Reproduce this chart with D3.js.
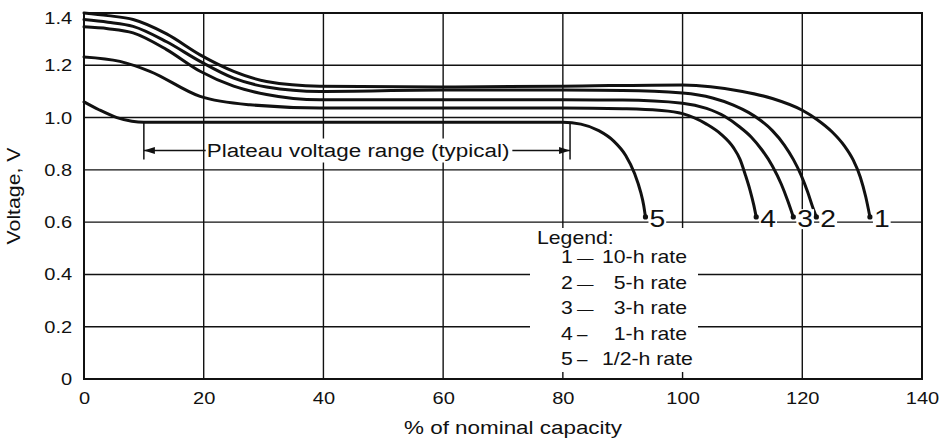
<!DOCTYPE html>
<html>
<head>
<meta charset="utf-8">
<script src="https://cdn.jsdelivr.net/npm/d3@7"></script>
<style>
  body { margin: 0; background: #fff; }
  svg { display: block; }
  text { font-family: "Liberation Sans", Arial, Helvetica, sans-serif; fill: #111; }
</style>
</head>
<body>
<svg id="chart" width="943" height="439"></svg>
<script>
// Axis ticks
const xTicks = [0, 20, 40, 60, 80, 100, 120, 140];
const yTicks = [0, 0.2, 0.4, 0.6, 0.8, 1.0, 1.2, 1.4];

// Discharge curves: [% of nominal capacity, volts]
const rate10h = [[0,1.40],[4,1.39],[8.2,1.375],[13.8,1.32],[19.4,1.24],[25,1.177],[30.5,1.138],[39.4,1.12],[60,1.117],[80,1.12],[100,1.125],[110,1.10],[115,1.073],[120,1.028],[122.5,0.992],[125,0.945],[127,0.893],[128.5,0.838],[129.7,0.772],[130.6,0.697],[131.3,0.62]];
const rate5h  = [[0,1.375],[4,1.365],[8.2,1.349],[13.8,1.29],[19.4,1.215],[25,1.151],[30.5,1.117],[39.4,1.10],[60,1.105],[80,1.105],[90,1.104],[100,1.094],[105,1.075],[108.5,1.048],[111,1.02],[113,0.99],[115,0.95],[117,0.895],[118.5,0.84],[119.8,0.78],[120.9,0.715],[121.7,0.66],[122.35,0.62]];
const rate3h  = [[0,1.347],[4,1.34],[8.2,1.324],[13.8,1.26],[19.4,1.177],[25,1.12],[30.5,1.088],[39.4,1.068],[60,1.068],[80,1.068],[90,1.067],[100,1.055],[104,1.035],[107,1.005],[109.5,0.965],[111.5,0.925],[113.3,0.875],[115,0.815],[116.5,0.745],[117.6,0.68],[118.5,0.62]];
const rate1h  = [[0,1.232],[6,1.215],[11,1.177],[19.4,1.081],[27.7,1.049],[39.4,1.037],[60,1.037],[80,1.037],[90,1.034],[96,1.028],[100,1.015],[104,0.975],[106.5,0.935],[108.5,0.885],[109.6,0.84],[110.5,0.78],[111.3,0.72],[111.9,0.665],[112.3,0.62]];
const rateHalfH = [[0,1.06],[2.5,1.03],[5.5,1.0],[8,0.986],[10,0.982],[40,0.982],[60,0.982],[80,0.982],[83,0.975],[86,0.95],[88.5,0.91],[90.5,0.855],[92,0.785],[93,0.715],[93.5,0.665],[93.8,0.62]];

const curveSeries = [rate10h, rate5h, rate3h, rate1h, rateHalfH];
const curveIds = ['1', '2', '3', '4', '5'];

// Legend entries
const legendDashes = ['\u2014', '\u2014', '\u2014', '\u2013', '\u2013'];
const legendRates = ['10-h rate', '\u20075-h rate', '\u20073-h rate', '\u20071-h rate', '1/2-h rate'];

// Plateau annotation (capacity span and arrow level, volts)
const plateauRange = [10, 81.2];
const plateauArrowV = 0.874;
const plateauTickBottomV = 0.84;
const plateauText = 'Plateau voltage range (typical)';

const SX = 1.18; // horizontal stretch of lettering

const svg = d3.select('#chart');
const W = 943, H = 439;
const margin = { top: 13, right: 21, bottom: 60, left: 84 };

const x = d3.scaleLinear().domain([0, 140]).range([margin.left, W - margin.right]);
const y = d3.scaleLinear().domain([0, 1.4]).range([H - margin.bottom, margin.top]);

function stretchedText(g, px, py, str, size, anchor) {
  return g.append('text')
    .attr('transform', `translate(${px},${py}) scale(${SX},1)`)
    .attr('font-size', size)
    .attr('text-anchor', anchor || 'start')
    .text(str);
}

// Grid
const grid = svg.append('g').attr('stroke', '#111').attr('stroke-width', 1.4);
grid.selectAll('line.v').data(xTicks).join('line')
  .attr('x1', d => x(d)).attr('x2', d => x(d))
  .attr('y1', y(0)).attr('y2', y(1.4));
grid.selectAll('line.h').data(yTicks).join('line')
  .attr('x1', x(0)).attr('x2', x(140))
  .attr('y1', d => y(d)).attr('y2', d => y(d));

// Axes (labels only)
const yAxis = svg.append('g').attr('transform', `translate(${x(0)},0)`)
  .call(d3.axisLeft(y).tickValues(yTicks).tickSize(0).tickPadding(10)
    .tickFormat(d => d === 0 ? '0' : d3.format('.1f')(d)));
yAxis.select('.domain').remove();
yAxis.selectAll('text').attr('font-size', 17).attr('font-family', null)
  .attr('transform', d => `translate(0,${d === 1.4 ? 5 : 0}) scale(${SX},1)`);

const xAxis = svg.append('g').attr('transform', `translate(0,${y(0)})`)
  .call(d3.axisBottom(x).tickValues(xTicks).tickSize(0).tickPadding(13));
xAxis.select('.domain').remove();
xAxis.selectAll('text').attr('font-size', 17).attr('font-family', null)
  .attr('transform', `scale(${SX},1)`);

// Axis titles
const titles = svg.append('g');
titles.append('text')
  .attr('transform', `translate(20,${(y(0) + y(1.4)) / 2}) rotate(-90) scale(${SX},1)`)
  .attr('font-size', 18).attr('text-anchor', 'middle')
  .text('Voltage, V');
stretchedText(titles, (x(0) + x(140)) / 2 + 10, 434, '% of nominal capacity', 19, 'middle');

// Legend panel (white background hides grid)
const legendX = x(0) + 446, legendTop = 228;
svg.append('rect').attr('x', legendX).attr('y', legendTop)
  .attr('width', 168).attr('height', 144).attr('fill', '#fff');

// Plateau annotation
const ann = svg.append('g');
const labelStartX = x(20) + 3;
const annLabel = stretchedText(ann, labelStartX, y(plateauArrowV) + 6.5, plateauText, 19, 'start');
const labelW = annLabel.node().getComputedTextLength() * SX;
ann.insert('rect', 'text')
  .attr('x', labelStartX).attr('y', y(plateauArrowV) - 12)
  .attr('width', labelW + 2).attr('height', 24).attr('fill', '#fff');

const annLines = ann.append('g').attr('stroke', '#111').attr('stroke-width', 1.5);
plateauRange.forEach(v => {
  annLines.append('line')
    .attr('x1', x(v)).attr('x2', x(v))
    .attr('y1', y(rateHalfH[4][1])).attr('y2', y(plateauTickBottomV));
});
annLines.append('line')
  .attr('x1', x(plateauRange[0])).attr('x2', labelStartX - 1)
  .attr('y1', y(plateauArrowV)).attr('y2', y(plateauArrowV));
annLines.append('line')
  .attr('x1', labelStartX + labelW + 3).attr('x2', x(plateauRange[1]))
  .attr('y1', y(plateauArrowV)).attr('y2', y(plateauArrowV));
const ay = y(plateauArrowV);
const aL = x(plateauRange[0]), aR = x(plateauRange[1]);
ann.append('path').attr('fill', '#111')
  .attr('d', `M${aL},${ay} L${aL + 11},${ay - 3.5} L${aL + 11},${ay + 3.5} Z`);
ann.append('path').attr('fill', '#111')
  .attr('d', `M${aR},${ay} L${aR - 11},${ay - 3.5} L${aR - 11},${ay + 3.5} Z`);

// Discharge curves
const line = d3.line()
  .x(d => x(d[0])).y(d => y(d[1]))
  .curve(d3.curveMonotoneX);

svg.append('g').selectAll('path').data(curveSeries).join('path')
  .attr('d', line)
  .attr('fill', 'none').attr('stroke', '#111').attr('stroke-width', 3)
  .attr('stroke-linejoin', 'round').attr('stroke-linecap', 'round');

// Curve end markers and numbers
const ends = svg.append('g');
curveSeries.forEach((s, i) => {
  const last = s[s.length - 1];
  const ex = x(last[0]), ey = y(last[1]);
  ends.append('circle').attr('cx', ex).attr('cy', ey).attr('r', 2.6).attr('fill', '#111');
  const t = stretchedText(ends, ex + 4, y(0.6) + 5, curveIds[i], 24, 'start');
  const tw = t.node().getComputedTextLength() * SX;
  ends.insert('rect', 'text')
    .attr('x', ex + 3).attr('y', y(0.6) - 13)
    .attr('width', tw + 2).attr('height', 20).attr('fill', '#fff');
});

// Plot frame
svg.append('rect')
  .attr('x', x(0)).attr('y', y(1.4))
  .attr('width', x(140) - x(0)).attr('height', y(0) - y(1.4))
  .attr('fill', 'none').attr('stroke', '#111').attr('stroke-width', 2);

// Legend text
const lg = svg.append('g');
stretchedText(lg, legendX + 7, 244, 'Legend:', 18, 'start');
curveIds.forEach((id, i) => {
  const by = 263 + i * 25.5;
  stretchedText(lg, legendX + 31, by, id, 18, 'start');
  stretchedText(lg, legendX + 47, by, legendDashes[i], i < 3 ? 14 : 16, 'start');
  stretchedText(lg, legendX + 72, by, legendRates[i], 18, 'start');
});
</script>
</body>
</html>
